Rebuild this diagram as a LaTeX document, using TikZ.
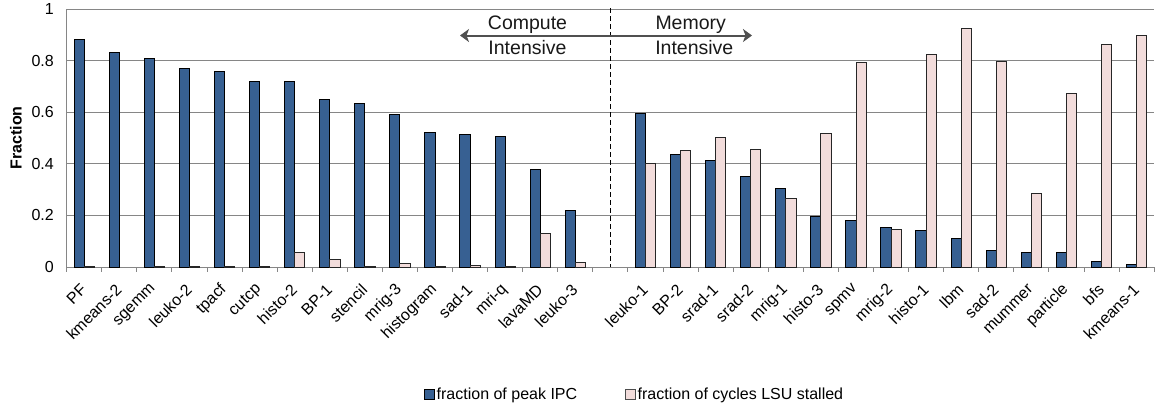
\documentclass[tikz,border=0pt]{standalone}
\usepackage{fontspec}
\setmainfont{Liberation Sans}
\usetikzlibrary{arrows.meta}
\definecolor{barblue}{RGB}{55,96,146}
\definecolor{barpink}{RGB}{242,220,219}
\definecolor{gridgray}{RGB}{134,134,134}
\definecolor{arrowgray}{RGB}{80,80,80}
\tikzset{
  grid/.style={draw=gridgray, line width=1pt},
  bluebar/.style={fill=barblue, draw=black, line width=0.9pt},
  pinkbar/.style={fill=barpink, draw=black!85, line width=0.9pt},
  ticklbl/.style={anchor=east, inner sep=0pt, font=\fontsize{16}{19}\selectfont},
  catlbl/.style={anchor=east, inner sep=0pt, rotate=45, font=\fontsize{16}{19}\selectfont},
  regionlbl/.style={inner sep=0pt, font=\fontsize{19.5}{22}\selectfont, text=black!90},
  leglbl/.style={anchor=west, inner sep=0pt, font=\fontsize{16}{19}\selectfont},
  legbox/.style={minimum width=10pt, minimum height=10pt, inner sep=0pt, line width=0.9pt},
}
\def\xo{66.7}
\def\cw{35.08}
\def\yz{267}
\def\ys{257.7}
\begin{document}
\begin{tikzpicture}[x=1pt,y=-1pt]
\useasboundingbox (0,0) rectangle (1155,408);
% grid lines
\foreach \v in {0.2,0.4,0.6,0.8,1.0}
  \draw[grid] (\xo,{\yz-\ys*\v}) -- (1154,{\yz-\ys*\v});
% axes
\draw[grid] (\xo,{\yz-\ys}) -- (\xo,\yz);
\draw[grid] (\xo,\yz) -- (1154,\yz);
\foreach \k in {0,...,31}
  \draw[grid] ({\xo+\cw*\k},\yz) -- ({\xo+\cw*\k},\yz+5);
% y tick labels
\foreach \v/\t [count=\j] in {0/0,0.2/0.2,0.4/0.4,0.6/0.6,0.8/0.8,1/1}
  \node[ticklbl] (yt\j) at (54,{\yz-\ys*\v}) {\t};
% y axis title
\node[rotate=90, inner sep=0pt, font=\fontsize{16}{19}\selectfont\bfseries] (ytitle) at (16,138) {Fraction};
% compute-intensive bars
\foreach \n/\b/\p [count=\i from 0] in {PF/0.884/0.003, kmeans-2/0.833/0, sgemm/0.811/0.002, leuko-2/0.772/0.003, tpacf/0.757/0.002, cutcp/0.719/0.002, histo-2/0.719/0.056, BP-1/0.649/0.028, stencil/0.634/0.002, mrig-3/0.591/0.014, histogram/0.523/0.002, sad-1/0.516/0.005, mri-q/0.506/0.002, lavaMD/0.378/0.132, leuko-3/0.218/0.018}{
  \pgfmathsetmacro{\cx}{\xo+\cw*\i}
  \draw[bluebar] ({\cx+7.3},\yz) rectangle ({\cx+17.5},{\yz-\ys*\b});
  \ifdim\p pt>0pt
    \draw[pinkbar] ({\cx+17.5},\yz) rectangle ({\cx+27.7},{\yz-\ys*\p});
  \fi
  \node[catlbl] (c\i) at ({\cx+\cw/2-0.5},287) {\n};
}
% memory-intensive bars
\foreach \n/\b/\p [count=\i from 16] in {leuko-1/0.594/0.400, BP-2/0.438/0.453, srad-1/0.413/0.503, srad-2/0.350/0.455, mrig-1/0.303/0.266, histo-3/0.197/0.517, spmv/0.181/0.793, mrig-2/0.155/0.144, histo-1/0.141/0.823, lbm/0.109/0.926, sad-2/0.066/0.797, mummer/0.056/0.287, particle/0.056/0.673, bfs/0.022/0.863, kmeans-1/0.009/0.898}{
  \pgfmathsetmacro{\cx}{\xo+\cw*\i}
  \draw[bluebar] ({\cx+7.3},\yz) rectangle ({\cx+17.5},{\yz-\ys*\b});
  \draw[pinkbar] ({\cx+17.5},\yz) rectangle ({\cx+27.7},{\yz-\ys*\p});
  \node[catlbl] (c\i) at ({\cx+\cw/2-0.5},287) {\n};
}
% divider
\coordinate (dtop) at (610.4,8);
\coordinate (dbot) at (610.4,267);
\draw[black, line width=1.2pt, dash pattern=on 5pt off 3pt] (dtop) -- (dbot);
% region arrow
\coordinate (aL) at (460,35.5);
\coordinate (aR) at (752,35.5);
\draw[arrowgray, line width=2pt, {Stealth[length=9pt,width=13pt,inset=2.5pt]}-{Stealth[length=9pt,width=13pt,inset=2.5pt]}] (aL) -- (aR);
\node[regionlbl] (comp1) at (527.5,24.5) {Compute};
\node[regionlbl] (comp2) at (527.5,47.5) {Intensive};
\node[regionlbl] (mem1) at (690.7,24.5) {Memory};
\node[regionlbl] (mem2) at (694.3,47.5) {Intensive};
% legend
\node[legbox, fill=barblue, draw=black] (lb1) at (429.3,394.3) {};
\node[leglbl] (lt1) at (436.5,395) {fraction of peak IPC};
\node[legbox, fill=barpink, draw=black!70] (lb2) at (630,394.3) {};
\node[leglbl] (lt2) at (637.5,395) {fraction of cycles LSU stalled};
\end{tikzpicture}
\end{document}
